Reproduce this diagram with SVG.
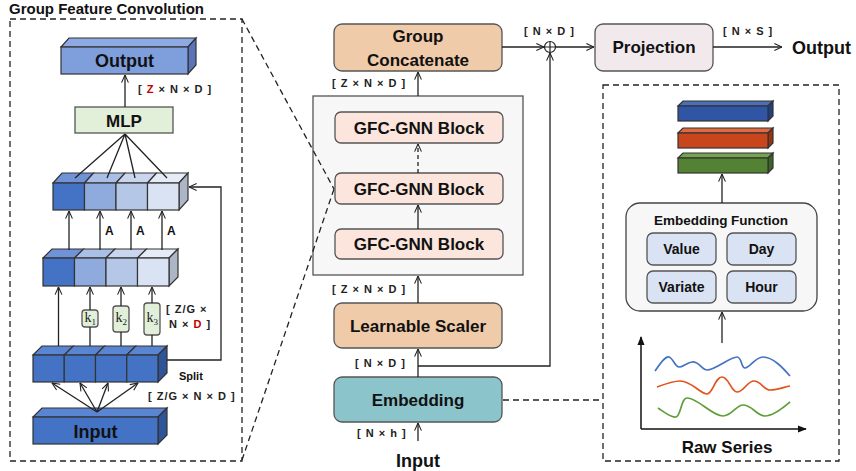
<svg xmlns="http://www.w3.org/2000/svg" width="856" height="471" viewBox="0 0 856 471">
<style>
text{font-family:"Liberation Sans",Arial,sans-serif;font-weight:bold;fill:#111;}
.t17{font-size:17px;}
.t18{font-size:18px;}
.t14{font-size:14px;}
.dim{font-size:11px;letter-spacing:1px;fill:#222;}
.ln{stroke:#222;stroke-width:1.3;fill:none;}
.dash{stroke:#222;stroke-width:1.3;fill:none;stroke-dasharray:6,4;}
.box{stroke:#555;stroke-width:1.3;}
.edge{stroke:#333;stroke-width:1.2;}
.red{fill:#c00000;}
.ser{font-family:"Liberation Serif","Times New Roman",serif;font-weight:normal;font-size:14px;fill:#222;}
</style>
<defs>
<marker id="arr" viewBox="0 0 10 10" refX="9.5" refY="5" markerWidth="9" markerHeight="9" orient="auto" markerUnits="userSpaceOnUse">
<path d="M1,1.2 L9.5,5 L1,8.8" fill="none" stroke="#222" stroke-width="1.2"/>
</marker>
<marker id="tri" viewBox="0 0 10 10" refX="9" refY="5" markerWidth="9" markerHeight="9" orient="auto" markerUnits="userSpaceOnUse">
<path d="M0,1 L10,5 L0,9 Z" fill="#111"/>
</marker>
</defs>
<rect width="856" height="471" fill="#fff"/>

<!-- Left panel -->
<g id="gfc-panel">
<text x="9" y="13.5" style="font-size:15px">Group Feature Convolution</text>
<rect x="10" y="19" width="232" height="442" class="dash"/>
</g>

<g id="gfc-output">
<polygon points="61,47 69,38 196,38 188,47" fill="#8eaae3" class="edge"/>
<polygon points="188,47 196,38 196,65 188,74" fill="#5b73b8" class="edge"/>
<rect x="61" y="47" width="127" height="27" fill="#7f9fdc" class="edge"/>
<text x="124.5" y="67" text-anchor="middle" class="t18">Output</text>
</g>

<g id="gfc-mlp">
<rect x="75" y="107" width="98" height="26" fill="#e2efd9" class="box"/>
<text x="124" y="126.5" text-anchor="middle" class="t17">MLP</text>
</g>

<g id="gfc-upper-row">
<polygon points="53,183 62,173 93.5,173 84.5,183" fill="#6f93d6" class="edge"/>
<polygon points="84.5,183 93.5,173 125,173 116,183" fill="#a9bfe6" class="edge"/>
<polygon points="116,183 125,173 156.5,173 147.5,183" fill="#c9d6ee" class="edge"/>
<polygon points="147.5,183 156.5,173 188,173 179,183" fill="#e6ecf7" class="edge"/>
<polygon points="179,183 188,173 188,200 179,210" fill="#adb6c6" class="edge"/>
<rect x="53" y="183" width="31.5" height="27" fill="#4472c4" class="edge"/>
<rect x="84.5" y="183" width="31.5" height="27" fill="#8faadc" class="edge"/>
<rect x="116" y="183" width="31.5" height="27" fill="#b4c7e7" class="edge"/>
<rect x="147.5" y="183" width="31.5" height="27" fill="#dae3f3" class="edge"/>
</g>

<g id="gfc-lower-row">
<polygon points="43,258 52,249 83.5,249 74.5,258" fill="#6f93d6" class="edge"/>
<polygon points="74.5,258 83.5,249 115,249 106,258" fill="#a9bfe6" class="edge"/>
<polygon points="106,258 115,249 146.5,249 137.5,258" fill="#c9d6ee" class="edge"/>
<polygon points="137.5,258 146.5,249 178,249 169,258" fill="#e6ecf7" class="edge"/>
<polygon points="169,258 178,249 178,277 169,286" fill="#adb6c6" class="edge"/>
<rect x="43" y="258" width="31.5" height="28" fill="#4472c4" class="edge"/>
<rect x="74.5" y="258" width="31.5" height="28" fill="#8faadc" class="edge"/>
<rect x="106" y="258" width="31.5" height="28" fill="#b4c7e7" class="edge"/>
<rect x="137.5" y="258" width="31.5" height="28" fill="#dae3f3" class="edge"/>
</g>

<g id="gfc-kernels">
<rect x="82" y="310" width="16" height="17" rx="3" fill="#e2efd9" class="box"/>
<text x="84.5" y="322" class="ser">k<tspan dy="3" font-size="9">1</tspan></text>
<rect x="113" y="306" width="16" height="26" rx="3" fill="#e2efd9" class="box"/>
<text x="115.5" y="322" class="ser">k<tspan dy="3" font-size="9">2</tspan></text>
<rect x="144" y="303" width="16" height="32" rx="3" fill="#e2efd9" class="box"/>
<text x="146.5" y="322" class="ser">k<tspan dy="3" font-size="9">3</tspan></text>
</g>

<g id="gfc-split">
<polygon points="33,355 42,346 73.25,346 64.25,355" fill="#5a85d2" class="edge"/>
<polygon points="64.25,355 73.25,346 104.5,346 95.5,355" fill="#5a85d2" class="edge"/>
<polygon points="95.5,355 104.5,346 135.75,346 126.75,355" fill="#5a85d2" class="edge"/>
<polygon points="126.75,355 135.75,346 167,346 158,355" fill="#5a85d2" class="edge"/>
<polygon points="158,355 167,346 167,373 158,382" fill="#2f5597" class="edge"/>
<rect x="33" y="355" width="31.25" height="27" fill="#4472c4" class="edge"/>
<rect x="64.25" y="355" width="31.25" height="27" fill="#4472c4" class="edge"/>
<rect x="95.5" y="355" width="31.25" height="27" fill="#4472c4" class="edge"/>
<rect x="126.75" y="355" width="31.25" height="27" fill="#4472c4" class="edge"/>
</g>

<g id="gfc-input">
<polygon points="33,417 42,408 167,408 158,417" fill="#5a85d2" class="edge"/>
<polygon points="158,417 167,408 167,435 158,444" fill="#2f5597" class="edge"/>
<rect x="33" y="417" width="125" height="27" fill="#4472c4" class="edge"/>
<text x="95.5" y="438" text-anchor="middle" class="t18">Input</text>
</g>

<g id="gfc-labels">
<text x="138" y="93" class="dim">[ <tspan class="red">Z</tspan> × N × D ]</text>
<text x="105" y="235" style="font-size:12px">A</text>
<text x="136" y="235" style="font-size:12px">A</text>
<text x="167" y="235" style="font-size:12px">A</text>
<text x="166" y="313" class="dim">[ Z/G ×</text>
<text x="169" y="328" class="dim">N × <tspan class="red">D</tspan> ]</text>
<text x="179" y="380" style="font-size:11px">Split</text>
<text x="148" y="400" class="dim">[ Z/G × N × D ]</text>
</g>

<!-- Middle column -->
<g id="group-concatenate">
<rect x="334" y="24" width="168" height="47" rx="8" fill="#f0cba9" class="box"/>
<text x="418" y="42" text-anchor="middle" class="t17">Group</text>
<text x="418" y="66" text-anchor="middle" class="t17">Concatenate</text>
</g>

<g id="gnn-container">
<rect x="313" y="96" width="210" height="179" fill="#f7f7f7" class="box"/>
</g>

<g id="gfc-gnn-block-1">
<rect x="335" y="112" width="168" height="31" rx="6" fill="#fbe5dc" class="box"/>
<text x="419" y="133.5" text-anchor="middle" class="t17">GFC-GNN Block</text>
</g>
<g id="gfc-gnn-block-2">
<rect x="335" y="173" width="168" height="31" rx="6" fill="#fbe5dc" class="box"/>
<text x="419" y="194.5" text-anchor="middle" class="t17">GFC-GNN Block</text>
</g>
<g id="gfc-gnn-block-3">
<rect x="335" y="229" width="168" height="30" rx="6" fill="#fbe5dc" class="box"/>
<text x="419" y="250" text-anchor="middle" class="t17">GFC-GNN Block</text>
</g>

<g id="learnable-scaler">
<rect x="334" y="303" width="168" height="45" rx="8" fill="#f0cba9" class="box"/>
<text x="418" y="332" text-anchor="middle" class="t17">Learnable Scaler</text>
</g>

<g id="embedding">
<rect x="334" y="377" width="168" height="45" rx="8" fill="#8cc4cc" class="box"/>
<text x="418" y="406" text-anchor="middle" class="t17">Embedding</text>
</g>

<g id="input-label">
<text x="418" y="467" text-anchor="middle" class="t18">Input</text>
</g>

<g id="projection">
<rect x="595" y="24" width="118" height="47" rx="8" fill="#f2e9ec" class="box"/>
<text x="654" y="53" text-anchor="middle" class="t17">Projection</text>
</g>

<g id="output-label">
<text x="792" y="54" class="t18">Output</text>
</g>

<g id="add-node">
<circle cx="550" cy="47" r="5.5" fill="#fff" stroke="#222" stroke-width="1.2"/>
<path d="M544.5,47 H555.5 M550,41.5 V52.5" stroke="#222" stroke-width="1.2"/>
</g>

<g id="mid-labels">
<text x="332" y="87" class="dim">[ Z × N × D ]</text>
<text x="332" y="293" class="dim">[ Z × N × D ]</text>
<text x="355" y="367" class="dim">[ N × D ]</text>
<text x="357" y="437" class="dim">[ N × h ]</text>
<text x="524" y="35" class="dim">[ N × D ]</text>
<text x="723" y="35" class="dim">[ N × S ]</text>
</g>

<!-- Right panel -->
<g id="embedding-detail">
<rect x="603" y="85" width="236" height="376" class="dash"/>
</g>

<g id="embedding-vectors">
<polygon points="678,106 683,101 773,101 768,106" fill="#4a6fb8" class="edge"/>
<polygon points="768,106 773,101 773,116 768,121" fill="#22407e" class="edge"/>
<rect x="678" y="106" width="90" height="15" fill="#2f55a4" class="edge"/>
<polygon points="678,133 683,128 773,128 768,133" fill="#e06a40" class="edge"/>
<polygon points="768,133 773,128 773,143 768,148" fill="#99330f" class="edge"/>
<rect x="678" y="133" width="90" height="15" fill="#c9461c" class="edge"/>
<polygon points="678,158 683,153 773,153 768,158" fill="#72a550" class="edge"/>
<polygon points="768,158 773,153 773,168 768,173" fill="#3d6327" class="edge"/>
<rect x="678" y="158" width="90" height="15" fill="#548235" class="edge"/>
</g>

<g id="embedding-function">
<rect x="626" y="203" width="191" height="108" rx="14" fill="#f7f7f7" stroke="#444" stroke-width="1.3"/>
<text x="721" y="225" text-anchor="middle" style="font-size:13.5px">Embedding Function</text>
</g>
<g id="ef-value">
<rect x="647" y="233" width="69" height="32" rx="6" fill="#dae3f3" class="box"/>
<text x="681.5" y="254" text-anchor="middle" class="t14">Value</text>
</g>
<g id="ef-day">
<rect x="727" y="233" width="69" height="32" rx="6" fill="#dae3f3" class="box"/>
<text x="761.5" y="254" text-anchor="middle" class="t14">Day</text>
</g>
<g id="ef-variate">
<rect x="647" y="271" width="69" height="32" rx="6" fill="#dae3f3" class="box"/>
<text x="681.5" y="292" text-anchor="middle" class="t14">Variate</text>
</g>
<g id="ef-hour">
<rect x="727" y="271" width="69" height="32" rx="6" fill="#dae3f3" class="box"/>
<text x="761.5" y="292" text-anchor="middle" class="t14">Hour</text>
</g>

<g id="raw-series">
<line x1="641" y1="429" x2="641" y2="337" stroke="#111" stroke-width="1.5" marker-end="url(#tri)"/>
<line x1="641" y1="429" x2="806" y2="429" stroke="#111" stroke-width="1.5" marker-end="url(#tri)"/>
<path d="M655,371 C660,364 665,356 669,357 C673,358 675,367 679,367 C683,367 686,363 692,362 C699,361 702,370 707,370 C715,370 730,357 737,357 C742,357 741,368 745,368 C750,368 755,357 763,357 C773,357 783,368 790,376" fill="none" stroke="#4472c4" stroke-width="1.7"/>
<path d="M657,387 C665,384 673,381 680,381 C692,381 700,394 707,394 C713,394 715,377 722,377 C729,377 731,392 737,392 C744,392 747,381 754,381 C761,381 764,390 770,390 C778,390 784,387 790,386" fill="none" stroke="#e0541e" stroke-width="1.7"/>
<path d="M658,408 C664,412 671,418 676,417 C681,416 681,398 687,398 C698,398 712,416 723,416 C732,416 736,405 743,405 C752,405 757,416 765,416 C774,416 784,407 790,402" fill="none" stroke="#5e9e3a" stroke-width="1.7"/>
<text x="727" y="453" text-anchor="middle" class="t17">Raw Series</text>
</g>

<!-- Connectors -->
<g id="connectors">
<line x1="125" y1="107" x2="125" y2="75" class="ln" marker-end="url(#arr)"/>
<path d="M125,134 L75,178 M125,134 L107,178 M125,134 L135,178 M125,134 L167,178" class="ln"/>
<line x1="69" y1="250" x2="69" y2="211" class="ln" marker-end="url(#arr)"/>
<line x1="100" y1="250" x2="100" y2="211" class="ln" marker-end="url(#arr)"/>
<line x1="131" y1="250" x2="131" y2="211" class="ln" marker-end="url(#arr)"/>
<line x1="162" y1="250" x2="162" y2="211" class="ln" marker-end="url(#arr)"/>
<line x1="58.5" y1="346" x2="58.5" y2="287" class="ln" marker-end="url(#arr)"/>
<line x1="90" y1="346" x2="90" y2="327" class="ln"/>
<line x1="90" y1="310" x2="90" y2="287" class="ln" marker-end="url(#arr)"/>
<line x1="121" y1="346" x2="121" y2="332" class="ln"/>
<line x1="121" y1="306" x2="121" y2="287" class="ln" marker-end="url(#arr)"/>
<line x1="152" y1="346" x2="152" y2="335" class="ln"/>
<line x1="152" y1="303" x2="152" y2="287" class="ln" marker-end="url(#arr)"/>
<line x1="97" y1="412" x2="52" y2="383" class="ln" marker-end="url(#arr)"/>
<line x1="97" y1="412" x2="80" y2="383" class="ln" marker-end="url(#arr)"/>
<line x1="97" y1="412" x2="108" y2="383" class="ln" marker-end="url(#arr)"/>
<line x1="97" y1="412" x2="138" y2="383" class="ln" marker-end="url(#arr)"/>
<polyline points="167,360 221,360 221,187 189,187" class="ln" marker-end="url(#arr)"/>

<line x1="242" y1="19" x2="334" y2="189" class="dash"/>
<line x1="242" y1="460" x2="334" y2="189" class="dash"/>

<line x1="418" y1="96" x2="418" y2="72" class="ln" marker-end="url(#arr)"/>
<line x1="418" y1="173" x2="418" y2="144" class="dash" marker-end="url(#arr)" style="stroke-dasharray:4,3"/>
<line x1="418" y1="229" x2="418" y2="205" class="ln" marker-end="url(#arr)"/>
<line x1="418" y1="303" x2="418" y2="276" class="ln" marker-end="url(#arr)"/>
<line x1="418" y1="377" x2="418" y2="349" class="ln" marker-end="url(#arr)"/>
<line x1="418" y1="441" x2="418" y2="423" class="ln" marker-end="url(#arr)"/>
<line x1="502" y1="47" x2="544" y2="47" class="ln" marker-end="url(#arr)"/>
<polyline points="418,366 550,366 550,53" class="ln" marker-end="url(#arr)"/>
<line x1="556" y1="47" x2="594" y2="47" class="ln" marker-end="url(#arr)"/>
<line x1="713" y1="47" x2="782" y2="47" class="ln" marker-end="url(#arr)"/>
<line x1="503" y1="400" x2="603" y2="400" class="dash"/>
<line x1="722" y1="203" x2="722" y2="174" class="ln" marker-end="url(#arr)"/>
<line x1="722" y1="343" x2="722" y2="312" class="ln" marker-end="url(#arr)"/>
</g>
</svg>
